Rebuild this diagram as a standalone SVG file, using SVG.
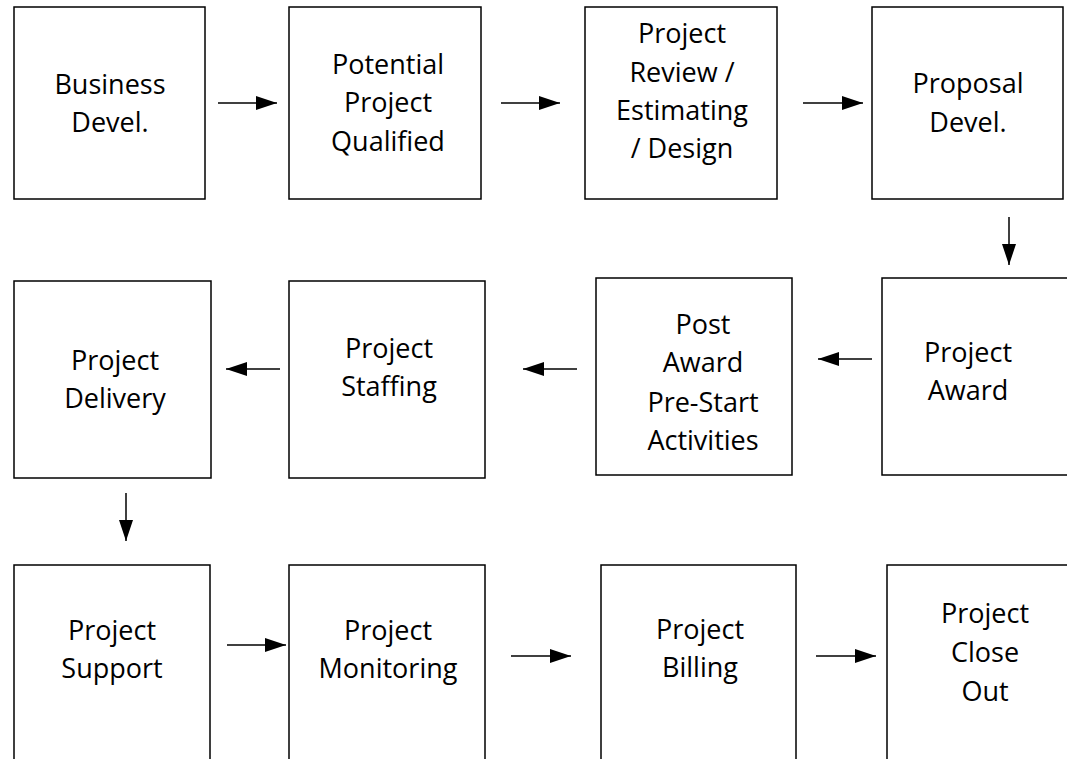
<svg xmlns="http://www.w3.org/2000/svg" width="1067" height="759" viewBox="0 0 1067 759">
<style>
.box{fill:#fff;stroke:#000;stroke-width:1.5}
.lbl{font-family:"Open Sans","Liberation Sans",sans-serif;font-size:27px;fill:#000;text-anchor:middle}
.con{stroke:#000;stroke-width:1.5;fill:none;marker-end:url(#ah)}
</style>
<defs>
<marker id="ah" markerUnits="userSpaceOnUse" markerWidth="22" markerHeight="14" refX="21" refY="7" orient="auto">
<path d="M0,0 L21,7 L0,14 z" fill="#000"/>
</marker>
</defs>
<rect width="1067" height="759" fill="#fff"/>
<g id="n1"><rect class="box" x="14" y="7" width="191" height="192"/><text class="lbl"><tspan x="110" y="94">Business</tspan><tspan x="110" y="132">Devel.</tspan></text></g>
<g id="n2"><rect class="box" x="289" y="7" width="192" height="192"/><text class="lbl"><tspan x="388" y="74">Potential</tspan><tspan x="388" y="112">Project</tspan><tspan x="388" y="151">Qualified</tspan></text></g>
<g id="n3"><rect class="box" x="585" y="7" width="192" height="192"/><text class="lbl"><tspan x="682" y="43">Project</tspan><tspan x="682" y="82">Review /</tspan><tspan x="682" y="120">Estimating</tspan><tspan x="682" y="158">/ Design</tspan></text></g>
<g id="n4"><rect class="box" x="872" y="7" width="191" height="192"/><text class="lbl"><tspan x="968" y="93">Proposal</tspan><tspan x="968" y="132">Devel.</tspan></text></g>
<g id="n5"><path class="box" d="M1067,278 L882,278 L882,475 L1067,475"/><text class="lbl"><tspan x="968" y="362">Project</tspan><tspan x="968" y="400">Award</tspan></text></g>
<g id="n6"><rect class="box" x="596" y="278" width="196" height="197"/><text class="lbl"><tspan x="703" y="334">Post</tspan><tspan x="703" y="372">Award</tspan><tspan x="703" y="412">Pre-Start</tspan><tspan x="703" y="450">Activities</tspan></text></g>
<g id="n7"><rect class="box" x="289" y="281" width="196" height="197"/><text class="lbl"><tspan x="389" y="358">Project</tspan><tspan x="389" y="396">Staffing</tspan></text></g>
<g id="n8"><rect class="box" x="14" y="281" width="197" height="197"/><text class="lbl"><tspan x="115" y="370">Project</tspan><tspan x="115" y="408">Delivery</tspan></text></g>
<g id="n9"><path class="box" d="M14,760 L14,565 L210,565 L210,760"/><text class="lbl"><tspan x="112" y="640">Project</tspan><tspan x="112" y="678">Support</tspan></text></g>
<g id="n10"><path class="box" d="M289,760 L289,565 L485,565 L485,760"/><text class="lbl"><tspan x="388" y="640">Project</tspan><tspan x="388" y="678">Monitoring</tspan></text></g>
<g id="n11"><path class="box" d="M601,760 L601,565 L796,565 L796,760"/><text class="lbl"><tspan x="700" y="639">Project</tspan><tspan x="700" y="677">Billing</tspan></text></g>
<g id="n12"><path class="box" d="M887,760 L887,565 L1068,565"/><text class="lbl"><tspan x="985" y="623">Project</tspan><tspan x="985" y="662">Close</tspan><tspan x="985" y="701">Out</tspan></text></g>
<g id="connectors">
<line class="con" x1="218" y1="103" x2="277" y2="103"/>
<line class="con" x1="501" y1="103" x2="560" y2="103"/>
<line class="con" x1="803" y1="103" x2="863" y2="103"/>
<line class="con" x1="1009" y1="217" x2="1009" y2="265"/>
<line class="con" x1="872" y1="359" x2="818" y2="359"/>
<line class="con" x1="577" y1="369" x2="523" y2="369"/>
<line class="con" x1="280" y1="369" x2="226" y2="369"/>
<line class="con" x1="126" y1="493" x2="126" y2="541"/>
<line class="con" x1="227" y1="645" x2="286" y2="645"/>
<line class="con" x1="511" y1="656" x2="571" y2="656"/>
<line class="con" x1="816" y1="656" x2="876" y2="656"/>
</g>
</svg>
